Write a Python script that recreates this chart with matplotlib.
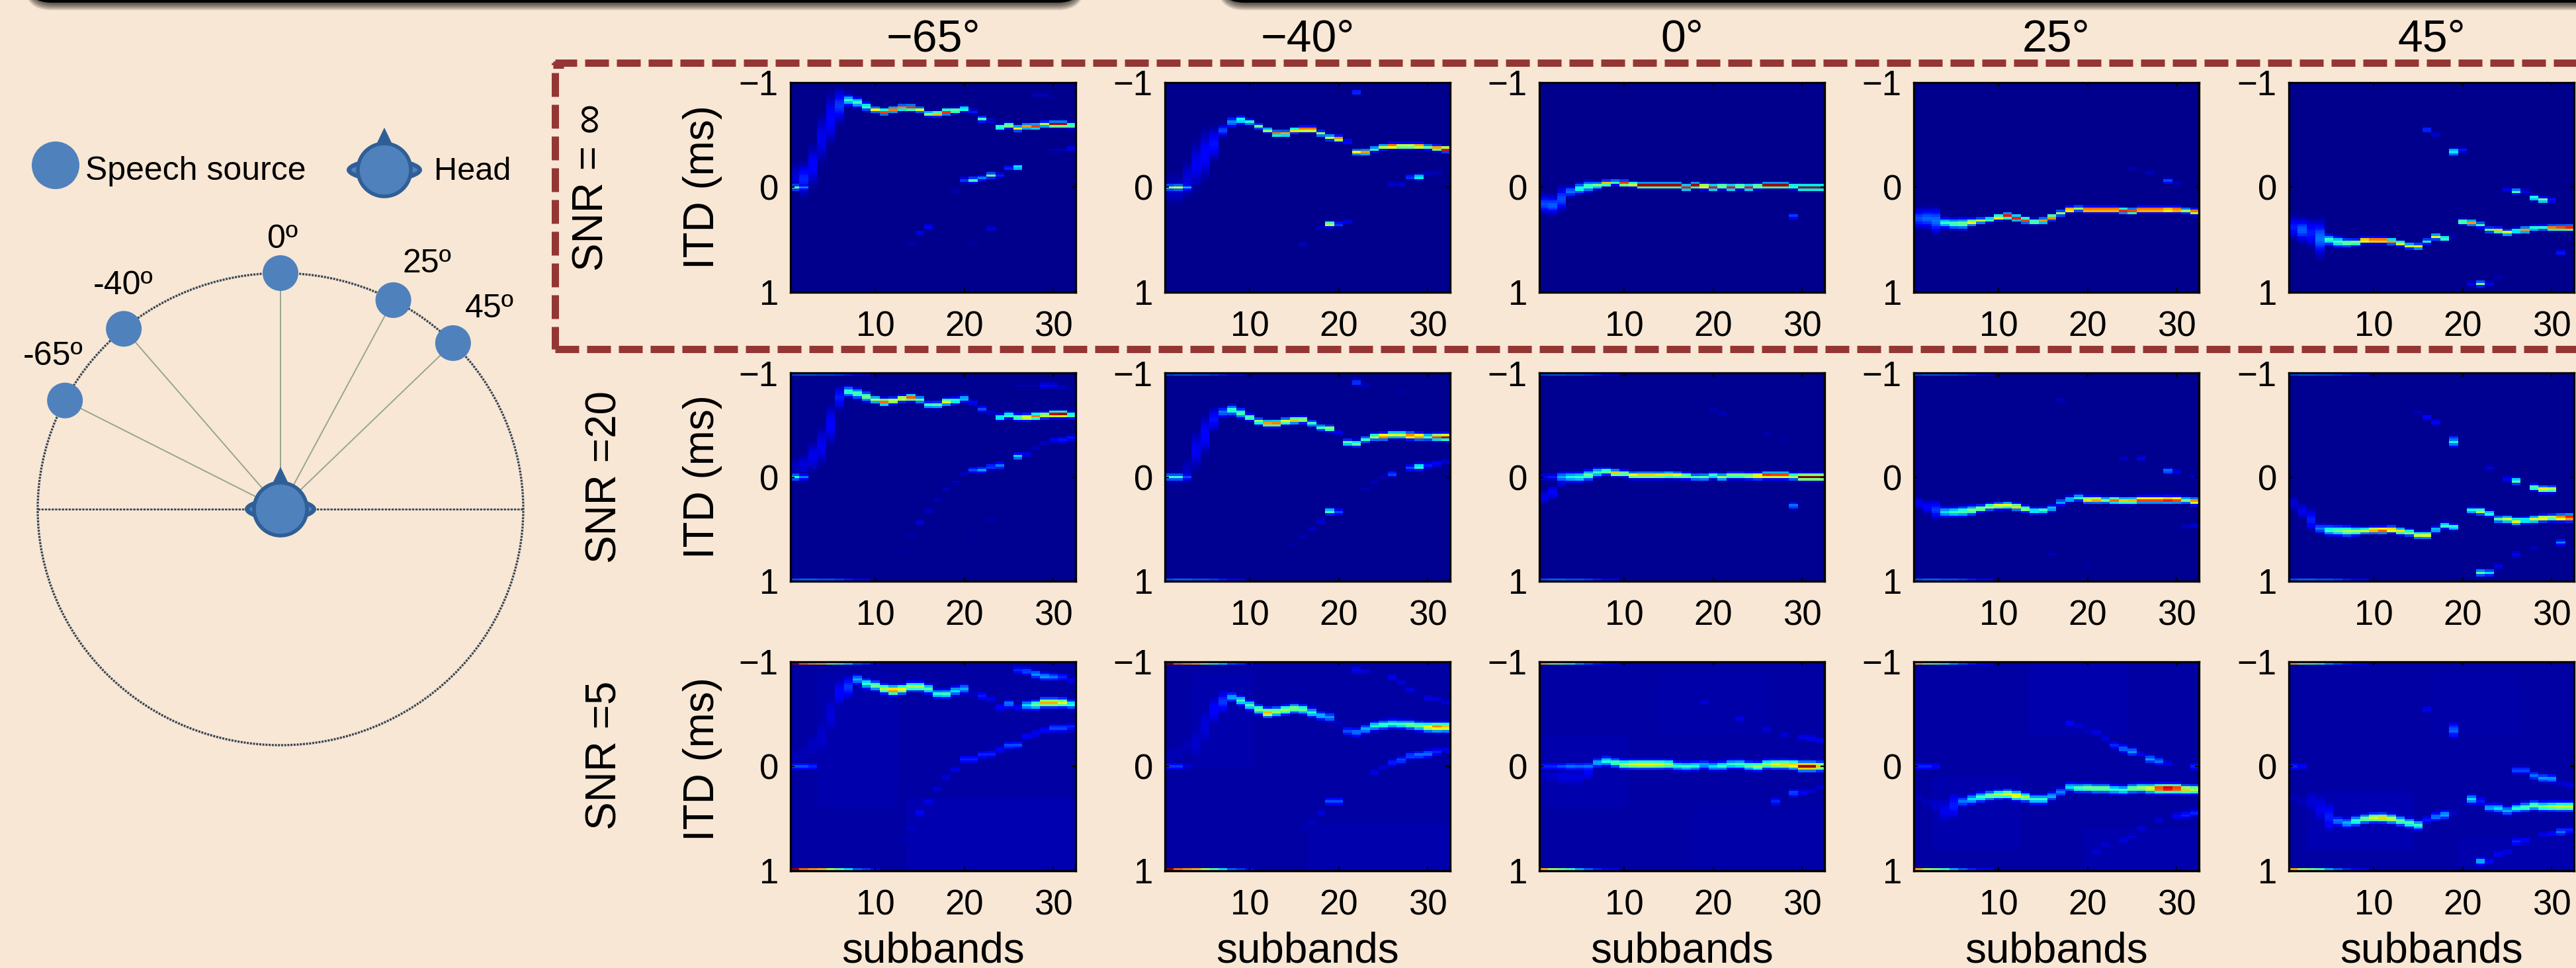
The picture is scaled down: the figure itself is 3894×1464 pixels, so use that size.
import numpy as np
import matplotlib
matplotlib.use("Agg")
import matplotlib.pyplot as plt
from matplotlib.patches import Ellipse, Circle, Polygon, FancyBboxPatch

# ---------------- data ----------------
azimuth_titles = ["\u221265\u00b0", "\u221240\u00b0", "0\u00b0", "25\u00b0", "45\u00b0"]
snr_labels = ["SNR = \u221e", "SNR =20", "SNR =5"]
source_labels = ["-65\u00ba", "-40\u00ba", "0\u00ba", "25\u00ba", "45\u00ba"]
source_angles = [-62.6, -40.2, 0.0, 27.7, 45.3]
xtick_values = [10, 20, 30]
ytick_values = [-1, 0, 1]
ytick_labels = ["\u22121", "0", "1"]

# clean condition: main ridge (ms) and strength for subbands 1..32
ridge_inf_m65 = [-.10,-.08,-.21,-.47,-.66,-.79,-.84,-.82,-.78,-.75,-.73,-.75,-.77,-.77,-.75,-.71,-.71,-.73,-.74,-.76,-.73,-.66,-.64,-.58,-.60,-.57,-.59,-.59,-.61,-.61,-.61,-.60]
amp_inf_m65 = [.08,.16,.12,.1,.13,.18,.4,.42,.45,.65,.85,.78,.78,.87,.6,.55,.75,.88,.55,.45,.15,.42,.08,.5,.6,.65,.75,.85,.6,.98,.98,.55]
extra_inf_m65 = [(1,0,.5),(2,0,.25),(19,.035,.05),(20,-.07,.18),(21,-.07,.42),(22,-.09,.25),(23,-.115,.5),(24,-.115,.15),(25,-.19,.18),(26,-.195,.42),(16,.38,.12),(15,.44,.1),(23,.4,.1),(14,.55,.04),(21,.55,.04),(28,-.89,.06),(29,-.89,.06),(30,-.87,.03),(30,-.36,.05),(31,-.36,.05),(32,-.375,.12)]

ridge_inf_m40 = [.02,.02,-.08,-.21,-.32,-.42,-.55,-.63,-.65,-.63,-.59,-.55,-.52,-.52,-.55,-.56,-.56,-.52,-.48,-.47,-.44,-.34,-.34,-.37,-.39,-.40,-.40,-.40,-.40,-.39,-.38,-.37]
amp_inf_m40 = [.07,.07,.08,.1,.12,.14,.2,.27,.4,.42,.48,.55,.8,.75,.7,.9,.9,.55,.6,.85,.15,.65,.75,.45,.6,.92,.7,.7,.85,.5,.8,.98]
extra_inf_m40 = [(1,0,.55),(2,0,.62),(3,0,.3),(19,.355,.65),(20,.355,.2),(21,.33,.1),(18,.39,.06),(16,.55,.06),(22,-.92,.2),(29,-.10,.42),(28,-.10,.2),(26,-.03,.08),(27,-.03,.08),(30,-.13,.06),(31,-.14,.05)]

ridge_inf_0 = [.16,.17,.11,.04,.01,-.01,-.02,-.04,-.05,-.04,-.03,-.02,-.02,-.02,-.02,-.02,0,-.02,-.01,0,-.01,0,-.01,0,-.01,-.02,-.02,-.02,-.01,0,0,0]
amp_inf_0 = [.2,.22,.2,.25,.4,.45,.5,.75,.45,.9,.65,.98,.98,.98,.98,.98,.88,.98,.75,.9,.6,.9,.6,.9,.6,.98,.98,.98,.5,.98,.98,.98]
extra_inf_0 = [(29,.28,.2)]

ridge_inf_25 = [.30,.30,.32,.34,.35,.35,.335,.32,.31,.29,.275,.295,.315,.33,.32,.29,.25,.215,.205,.215,.215,.215,.215,.225,.23,.215,.215,.215,.215,.215,.225,.235]
amp_inf_25 = [.2,.23,.24,.4,.45,.5,.65,.58,.5,.7,.9,.88,.85,.55,.75,.8,.55,.9,.55,.98,.98,.98,.98,.88,.85,.98,.98,.98,.9,.98,.55,.88]
extra_inf_25 = [(29,-.064,.2),(30,-.04,.06),(27,-.14,.06),(25,-.18,.05)]

ridge_inf_45 = [.385,.41,.44,.49,.505,.525,.535,.53,.51,.51,.51,.52,.54,.565,.57,.52,.475,.49,.48,.33,.34,.36,.41,.415,.435,.42,.41,.395,.39,.39,.39,.39]
amp_inf_45 = [.15,.22,.15,.24,.42,.45,.5,.55,.85,.95,.95,.75,.65,.6,.62,.4,.65,.5,.05,.55,.75,.45,.5,.75,.6,.45,.75,.45,.42,.8,.85,.9]
extra_inf_45 = [(16,-.557,.2),(17,-.51,.08),(19,-.35,.42),(19,-.33,.3),(20,-.36,.15),(26,.04,.45),(25,.02,.1),(27,.04,.1),(28,.10,.45),(29,.12,.55),(30,.12,.15),(31,.63,.15),(22,.93,.5),(21,.93,.12),(23,.93,.12),(24,.87,.05)]

# SNR 20
ridge_20_m65 = [-.1,-.12,-.2,-.3,-.51,-.77,-.83,-.81,-.78,-.75,-.73,-.74,-.76,-.77,-.75,-.70,-.70,-.73,-.74,-.76,-.72,-.66,-.63,-.58,-.60,-.58,-.58,-.59,-.60,-.61,-.61,-.60]
amp_20_m65 = [.06,.08,.1,.1,.12,.15,.42,.45,.5,.6,.8,.65,.68,.82,.5,.42,.45,.65,.45,.35,.12,.2,.07,.42,.45,.5,.7,.78,.65,.95,.98,.48]
extra_20_m65 = [(1,0,.4),(2,0,.25),(21,-.07,.2),(22,-.07,.28),(23,-.10,.2),(24,-.11,.25),(26,-.2,.35),(27,-.22,.1),(28,-.28,.06),(29,-.33,.06),(30,-.36,.1),(31,-.36,.14),(32,-.38,.15),(20,-.03,.06),(19,.05,.05),(18,.12,.05),(17,.22,.05),(16,.33,.07),(15,.44,.08),(14,.56,.04),(13,.71,.03),(23,.42,.04),(21,.54,.03),(29,-.89,.12),(30,-.89,.1),(31,-.87,.06),(32,-.85,.04),(26,-.89,.04),(27,-.89,.04),(28,-.89,.04)]

ridge_20_m40 = [0,0,-.06,-.26,-.41,-.56,-.63,-.65,-.62,-.58,-.54,-.52,-.52,-.54,-.55,-.555,-.52,-.48,-.47,-.43,-.335,-.325,-.365,-.39,-.395,-.41,-.41,-.40,-.395,-.39,-.39,-.39]
amp_20_m40 = [.05,.05,.06,.1,.12,.14,.25,.42,.45,.5,.55,.75,.78,.65,.72,.6,.42,.42,.55,.1,.48,.5,.42,.6,.85,.62,.62,.85,.82,.5,.85,.98]
extra_20_m40 = [(1,0,.42),(2,0,.42),(3,0,.2),(22,-.92,.2),(23,-.89,.06),(27,-.83,.04),(19,.335,.45),(20,.34,.2),(18,.43,.08),(17,.5,.07),(16,.58,.05),(15,.65,.04),(26,-.03,.2),(25,0,.05),(24,.05,.06),(23,.12,.05),(28,-.09,.2),(29,-.10,.45),(30,-.11,.15),(31,-.13,.12),(32,-.15,.08)]

ridge_20_0 = [0.2,.15,0,0,0,-.017,-.045,-.054,-.04,-.035,-.017,-.017,-.017,-.017,-.02,-.017,-.01,0,0,-.015,0,-.015,-.015,-.01,-.01,-.017,-.017,-.017,-.005,0,0,0]
amp_20_0 = [.1,.12,.3,.38,.42,.48,.42,.5,.72,.55,.68,.72,.72,.7,.68,.65,.55,.45,.48,.45,.55,.55,.55,.6,.75,.9,.88,.88,.58,1,1,1]
extra_20_0 = [(1,0,.12),(2,0,.15),(3,.07,.08),(29,.28,.25),(20,-.65,.05),(21,-.62,.05),(26,-.42,.04),(28,-.36,.04)]

ridge_20_25 = [.25,.29,.32,.34,.34,.335,.325,.305,.29,.28,.275,.29,.31,.33,.325,.305,.245,.215,.2,.22,.22,.225,.225,.23,.23,.22,.22,.22,.22,.22,.225,.235]
amp_20_25 = [.1,.12,.18,.35,.42,.45,.5,.55,.6,.65,.65,.7,.55,.42,.45,.35,.3,.35,.42,.72,.78,.5,.8,.7,.72,.9,.9,.9,.95,.9,.5,.82]
extra_20_25 = [(26,-.18,.1),(24,-.18,.07),(29,-.06,.25),(30,-.05,.1),(32,0,.06),(32,.47,.08),(31,.48,.06),(17,-.75,.06),(16,.75,.05),(20,.85,.04)]

ridge_20_45 = [.25,.33,.415,.5,.515,.52,.525,.525,.52,.515,.515,.51,.525,.54,.565,.565,.51,.47,.485,.33,.325,.335,.355,.41,.41,.43,.42,.41,.40,.395,.395,.395]
amp_20_45 = [.08,.1,.15,.25,.42,.48,.55,.55,.6,.78,.88,.78,.68,.55,.62,.65,.35,.45,.42,.02,.4,.6,.42,.45,.6,.65,.42,.6,.7,.6,.85,.98]
extra_20_45 = [(16,-.58,.15),(17,-.53,.12),(15,-.63,.05),(19,-.345,.38),(19,-.32,.25),(19,-.37,.25),(23,-.09,.08),(26,.04,.5),(25,.02,.12),(28,.10,.5),(29,.12,.7),(30,.12,.6),(31,.635,.25),(22,.93,.45),(23,.93,.35),(24,.87,.1),(26,.75,.12),(28,.69,.06)]

# SNR 5
ridge_5_m65 = [-.1,-.12,-.2,-.29,-.5,-.71,-.77,-.84,-.80,-.78,-.75,-.735,-.745,-.77,-.77,-.75,-.70,-.70,-.73,-.75,-.71,-.68,-.65,-.57,-.605,-.57,-.59,-.595,-.615,-.615,-.615,-.6]
amp_5_m65 = [.05,.05,.06,.07,.08,.12,.18,.3,.42,.5,.58,.78,.65,.55,.55,.45,.4,.42,.35,.3,.06,.15,.1,.12,.25,.1,.35,.5,.72,.72,.62,.4]
extra_5_m65 = [(1,0,.25),(2,0,.25),(3,0,.2),(26,-.93,.2),(27,-.92,.25),(28,-.89,.35),(29,-.87,.35),(30,-.865,.3),(31,-.865,.2),(32,-.83,.12),(20,-.07,.2),(21,-.07,.2),(22,-.11,.2),(23,-.12,.2),(24,-.16,.15),(25,-.2,.25),(26,-.205,.25),(27,-.29,.15),(28,-.32,.15),(29,-.35,.15),(30,-.37,.25),(31,-.37,.25),(32,-.38,.2),(19,.03,.12),(18,.11,.1),(17,.22,.1),(16,.34,.12),(15,.45,.14),(14,.6,.08),(13,.72,.06)]

ridge_5_m40 = [-.1,-.12,-.2,-.23,-.39,-.54,-.625,-.67,-.635,-.59,-.55,-.52,-.53,-.545,-.56,-.55,-.52,-.49,-.475,-.42,-.34,-.33,-.36,-.39,-.40,-.41,-.405,-.40,-.39,-.38,-.38,-.38]
amp_5_m40 = [.05,.05,.05,.07,.08,.12,.18,.3,.42,.45,.5,.72,.55,.55,.52,.48,.4,.32,.28,.06,.2,.25,.3,.4,.42,.4,.42,.5,.5,.65,.78,.72]
extra_5_m40 = [(1,0,.22),(2,0,.22),(3,0,.1),(22,-.93,.15),(23,-.92,.1),(26,-.86,.12),(27,-.81,.1),(28,-.74,.12),(29,-.71,.06),(30,-.66,.12),(31,-.65,.1),(32,-.62,.1),(19,.34,.25),(20,.34,.25),(18,.45,.1),(17,.53,.08),(16,.61,.06),(15,.7,.05),(24,.06,.12),(25,.01,.1),(26,-.035,.2),(27,-.06,.25),(28,-.1,.25),(29,-.11,.3),(30,-.12,.3),(31,-.14,.2),(32,-.16,.12)]

ridge_5_0 = [.1,.1,.1,.1,.1,.05,-.035,-.05,-.035,-.02,-.02,-.02,-.02,-.02,-.02,-.005,0,-.005,-.015,0,-.005,-.02,-.02,-.005,0,-.02,-.02,-.02,-.015,0,0,0]
amp_5_0 = [.06,.07,.08,.08,.08,.12,.3,.38,.45,.55,.62,.65,.65,.62,.55,.4,.42,.4,.3,.35,.42,.42,.45,.48,.55,.55,.65,.68,.72,.98,.98,.7]
extra_5_0 = [(1,0,.2),(2,0,.2),(3,0,.25),(4,0,.3),(5,0,.28),(6,0,.3),(19,-.62,.1),(23,-.46,.12),(26,-.36,.1),(28,-.31,.1),(30,-.28,.12),(31,-.27,.15),(32,-.25,.12),(27,.34,.2),(29,.26,.25),(30,.255,.15),(31,.24,.1),(32,.2,.08)]

ridge_5_25 = [.30,.35,.38,.43,.38,.34,.32,.30,.285,.275,.27,.285,.30,.32,.32,.29,.25,.2,.21,.21,.215,.215,.225,.23,.215,.21,.215,.215,.215,.215,.225,.225]
amp_5_25 = [.05,.05,.07,.1,.15,.25,.35,.42,.5,.55,.62,.68,.55,.42,.42,.3,.25,.35,.45,.5,.5,.5,.42,.42,.5,.55,.65,.88,.98,.9,.7,.62]
extra_5_25 = [(1,0,.2),(2,0,.2),(3,0,.15),(18,-.42,.15),(19,-.39,.1),(20,-.34,.08),(21,-.33,.12),(22,-.27,.12),(23,-.2,.2),(24,-.17,.3),(25,-.14,.35),(26,-.12,.12),(27,-.07,.35),(28,-.05,.3),(29,-.03,.12),(32,0,.2),(32,.45,.2),(31,.47,.2),(30,.48,.15),(28,.52,.1),(26,.6,.1),(25,.68,.1),(24,.72,.12),(22,.76,.1),(21,.83,.1)]

ridge_5_45 = [.3,.35,.34,.41,.49,.53,.55,.53,.51,.50,.50,.51,.53,.55,.57,.52,.49,.47,.45,.36,.32,.335,.40,.405,.43,.405,.395,.38,.39,.39,.39,.39]
amp_5_45 = [.05,.05,.08,.1,.15,.25,.3,.42,.5,.62,.68,.6,.48,.45,.42,.15,.25,.3,.06,.05,.35,.15,.3,.35,.3,.4,.45,.48,.5,.55,.6,.6]
extra_5_45 = [(1,0,.2),(2,0,.15),(19,-.35,.3),(19,-.39,.2),(19,-.31,.2),(16,-.55,.12),(17,-.52,.05),(26,.04,.25),(27,.04,.25),(28,.09,.3),(29,.115,.35),(30,.12,.35),(31,.165,.1),(32,.18,.12),(22,.92,.4),(23,.92,.15),(24,.85,.15),(25,.83,.12),(26,.73,.2),(27,.72,.15),(29,.66,.12),(30,.65,.15),(31,.635,.3),(32,.62,.2)]

# strength of the artefact row at the top and bottom edge, subbands 1..
edge_inf = [0.0]
edge_20 = [.2,.22,.22,.2,.2,.18,.15,.12,.1]
edge_5_strong = [.98,.8,.75,.72,.55,.45,.35,.22,.18,.12]
edge_5_weak = [.72,.55,.5,.42,.3,.22,.16,.12,.09]

# vertical spread of the low subbands, in lag bins, per condition
spread_inf = [4,4,5,6,6,4,1.5,1.2,1,.7]
spread_20 = [3,3,4,5,5,3,2,1.5,1.2,.85]
spread_5 = [4,4,5,6,6,4,3,2.2,1.6,1.2]
spread_scale = [1, 1, .6, .6, .7]

# faint haze of the noisy panels: subband from/to, ITD from/to, strength
haze_m65 = [(4,12,-.9,.4,.041),(14,32,.3,1,.044)]
haze_m40 = [(4,10,-.9,0,.041),(17,32,.55,1,.041)]
haze_0 = [(1,10,-.3,.4,.041),(14,26,-.9,-.3,.038),(18,32,.4,1,.038)]
haze_25 = [(3,12,.1,.8,.041),(14,24,-1,-.3,.04),(20,32,.6,1,.04)]
haze_45 = [(3,14,.25,.8,.044),(17,26,-.9,-.3,.038),(20,32,.7,1,.04)]

ridges = [[ridge_inf_m65, ridge_inf_m40, ridge_inf_0, ridge_inf_25, ridge_inf_45],
          [ridge_20_m65, ridge_20_m40, ridge_20_0, ridge_20_25, ridge_20_45],
          [ridge_5_m65, ridge_5_m40, ridge_5_0, ridge_5_25, ridge_5_45]]
amps = [[amp_inf_m65, amp_inf_m40, amp_inf_0, amp_inf_25, amp_inf_45],
        [amp_20_m65, amp_20_m40, amp_20_0, amp_20_25, amp_20_45],
        [amp_5_m65, amp_5_m40, amp_5_0, amp_5_25, amp_5_45]]
extras = [[extra_inf_m65, extra_inf_m40, extra_inf_0, extra_inf_25, extra_inf_45],
          [extra_20_m65, extra_20_m40, extra_20_0, extra_20_25, extra_20_45],
          [extra_5_m65, extra_5_m40, extra_5_0, extra_5_25, extra_5_45]]
hazes = [haze_m65, haze_m40, haze_0, haze_25, haze_45]
spreads = [spread_inf, spread_20, spread_5]
floors = [.014, .018, .032]
extra_sigma = [.7, .85, 1.1]
extra_gain = [1, 1, .8]

N_LAG = 89


def build_panel(row, col):
    m = np.full((N_LAG, 32), floors[row])
    if row == 2:
        for s0, s1, i0, i1, a in hazes[col]:
            c = (np.arange(32) + 1 >= s0) & (np.arange(32) + 1 <= s1)
            lag = np.linspace(-1, 1, N_LAG)
            r = (lag >= i0) & (lag <= i1)
            m[np.ix_(r, c)] = np.maximum(m[np.ix_(r, c)], a)
    rows = np.arange(N_LAG)

    def stamp(sb, itd, a, sigma):
        r0 = (itd + 1) / 2 * (N_LAG - 1)
        m[:, sb - 1] = np.maximum(m[:, sb - 1], a * np.exp(-.5 * ((rows - r0) / sigma) ** 2))

    sp = spreads[row]
    for i, (itd, a) in enumerate(zip(ridges[row][col], amps[row][col])):
        sigma = sp[min(i, len(sp) - 1)]
        if i < 9:
            sigma = max(sigma * spread_scale[col], sp[-1])
        if a >= .25:
            sigma = min(sigma, 1.3 if i < 9 else sp[-1])
        stamp(i + 1, itd, a, sigma)
    for sb, itd, a in extras[row][col]:
        stamp(sb, itd, a * extra_gain[row], extra_sigma[row])
    if row == 1:
        edge = edge_20
    elif row == 2:
        edge = edge_5_strong if col < 2 else edge_5_weak
    else:
        edge = edge_inf
    for i, a in enumerate(edge):
        m[0, i] = max(m[0, i], a)
        m[-1, i] = max(m[-1, i], a)
    return m


# ---------------- layout (pixels of the 3894x1464 picture) ----------------
W, H = 3894, 1464
BG = "#F8E7D4"
plt.rcParams["font.family"] = ["Liberation Sans", "DejaVu Sans"]
plt.rcParams["lines.scale_dashes"] = False
PX = 72 / 100

fig = plt.figure(figsize=(W / 100, H / 100), dpi=100, facecolor=BG)
ov = fig.add_axes([0, 0, 1, 1], zorder=0)
ov.set_xlim(0, W)
ov.set_ylim(H, 0)
ov.axis("off")

col_left = [1195, 1761, 2327, 2893, 3460]
col_w = 431
row_top = [125, 564, 1001]
row_h = [317, 315, 316]
label_fs = 46
tick_fs = 38

for r in range(3):
    for c in range(5):
        ax = fig.add_axes([col_left[c] / W, 1 - (row_top[r] + row_h[r]) / H, col_w / W, row_h[r] / H], zorder=2)
        ax.imshow(build_panel(r, c), cmap="jet", vmin=0, vmax=1, aspect="auto",
                  interpolation="nearest", extent=[.5, 32.5, 1, -1])
        ax.set_xticks(xtick_values)
        ax.set_yticks(ytick_values)
        ax.set_yticklabels(ytick_labels)
        ax.tick_params(axis="both", direction="in", length=4, width=1.5, top=True, right=True,
                       labelsize=tick_fs, color="black")
        ax.tick_params(axis="x", pad=20)
        ax.tick_params(axis="y", pad=13)
        for s in ax.spines.values():
            s.set_linewidth(2.4)

# column titles, row labels
for c, t in enumerate(azimuth_titles):
    ov.text(col_left[c] + col_w / 2, 78, t, ha="center", va="baseline", fontsize=49)
    ov.text(col_left[c] + col_w / 2, 1455, "subbands", ha="center", va="baseline", fontsize=label_fs)
itd_y = [283, 721, 1148]
snr_x = [894, 914, 914]
snr_y = [283, 721, 1142]
for r in range(3):
    ov.text(1062, itd_y[r], "ITD (ms)", rotation=90, ha="center", va="center", fontsize=label_fs)
    ov.text(snr_x[r], snr_y[r], snr_labels[r], rotation=90, ha="center", va="center", fontsize=label_fs)

# dashed red frame
RED = "#943634"
lw = 11 * PX
pat = (36 * PX, 12 * PX)
ov.plot([839, W], [95, 95], color=RED, lw=lw, ls=(3 * PX, pat), dash_capstyle="butt")
ov.plot([839, W], [528, 528], color=RED, lw=lw, ls=(0, pat), dash_capstyle="butt")
ov.plot([839, 839], [95, 528], color=RED, lw=lw, ls=(33 * PX, pat), dash_capstyle="butt")
ov.plot([836, 852], [98, 98], color=RED, lw=lw, solid_capstyle="butt")

# black banners with soft shadow at the very top
for x0, x1 in [(36, 1641), (1839, W + 200)]:
    for k in range(14):
        ov.add_patch(FancyBboxPatch((x0 + 6 - k * .4, -120), x1 - x0 - 12 + k * .8, 120 + 4 + k * .9,
                                    boxstyle="round,pad=0,rounding_size=40", fc="black", ec="none",
                                    alpha=.07, zorder=1))
    ov.add_patch(FancyBboxPatch((x0, -120), x1 - x0, 124, boxstyle="round,pad=0,rounding_size=42",
                                fc="black", ec="none", zorder=2))

# source diagram
BLUE = "#4F81BD"
DARK = "#2F5F96"
cx, cy, rx, ry = 424, 770, 367, 357
LINE = "#3A4656"
ov.add_patch(Ellipse((cx, cy), 2 * rx, 2 * ry, fc="none", ec=LINE, lw=2.4, ls=(0, (2.2, 1.2)), zorder=3))
ov.plot([cx - rx, cx + rx], [cy, cy], color=LINE, lw=2.0, ls=(0, (2.5, 1.2)), zorder=3)

src_x = cx + rx * np.sin(np.radians(source_angles))
src_y = cy - ry * np.cos(np.radians(source_angles))
for x, y in zip(src_x, src_y):
    ov.plot([cx, x], [cy, y], color="#98A58F", lw=1.4, zorder=3)
ov.add_patch(Circle((84, 250), 36, fc=BLUE, ec="none", zorder=4))
for x, y in zip(src_x, src_y):
    ov.add_patch(Circle((x, y), 27, fc=BLUE, ec="none", zorder=4))


def head(x, y, r, ear):
    ov.add_patch(Ellipse((x, y), 2 * ear, 36 * r / 40, fc=DARK, ec="none", zorder=5))
    ov.add_patch(Ellipse((x, y), 2 * ear - 14, 18 * r / 40, fc=BLUE, ec="none", zorder=5))
    ov.add_patch(Polygon([(x - 13 * r / 40, y - r + 3), (x, y - r - 24 * r / 40), (x + 13 * r / 40, y - r + 3)],
                         fc=DARK, ec="none", zorder=5))
    ov.add_patch(Circle((x, y), r, fc=BLUE, ec=DARK, lw=4, zorder=6))


head(581, 257, 40, 57)
head(cx, cy, 40, 54)

ov.text(129, 259, "Speech source", ha="left", va="center", fontsize=36, zorder=7)
ov.text(656, 259, "Head", ha="left", va="center", fontsize=35, zorder=7)
lab_x = [80, 186, 427, 645, 740]
lab_y = [539, 432, 362, 399, 467]
for t, x, y in zip(source_labels, lab_x, lab_y):
    ov.text(x, y, t, ha="center", va="center", fontsize=36, zorder=7)

fig.savefig("out.png", dpi=100, facecolor=BG)
